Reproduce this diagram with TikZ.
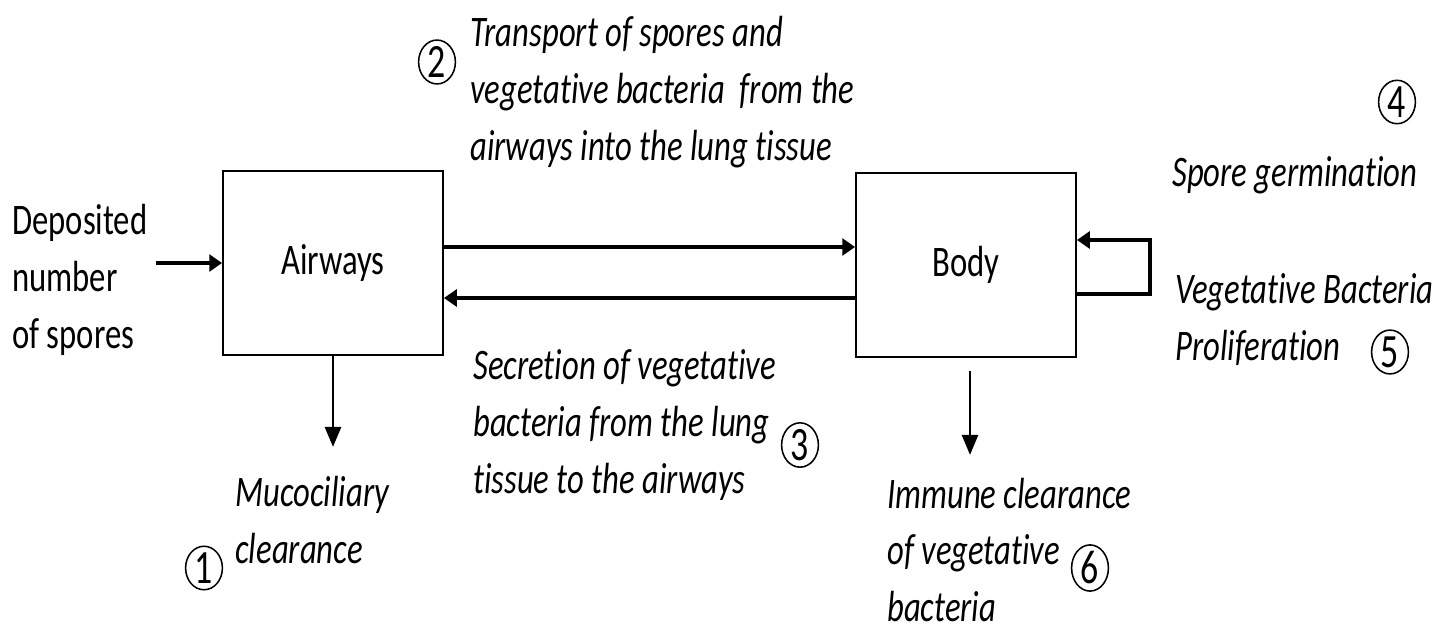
\documentclass[tikz,border=0pt]{standalone}
\usepackage{fontspec}
\setmainfont{Carlito}[FakeStretch=0.75,Ligatures=NoCommon]
\usetikzlibrary{arrows.meta,positioning,calc,shapes.geometric}
\newcommand\diagsize{\fontsize{31pt}{40.5pt}\selectfont}
\tikzset{
  box/.style={draw=black,line width=1.3pt,minimum width=5.5cm,minimum height=4.6cm,
    inner sep=0pt},
  arr/.style={-{Triangle[length=3.2mm,width=4.2mm]},line width=3.4pt,black},
  darr/.style={-{Triangle[length=5mm,width=4mm]},line width=1.9pt,black},
  lbl/.style={font=\diagsize\itshape,align=left,anchor=west,inner sep=0pt},
  txt/.style={align=left,anchor=west,inner sep=0pt},
  num/.style={draw=black,ellipse,line width=1.1pt,minimum width=0.92cm,
    minimum height=1.08cm,inner sep=0pt,font=\fontsize{34pt}{40pt}\selectfont}
}

\begin{document}
\begin{tikzpicture}[x=0.025cm,y=-0.025cm,font=\diagsize]
  \useasboundingbox (0,0) rectangle (1451,631);
  % compartments
  \node[box] (airways) at (333,263) {Airways};
  \node[box] (body) at (966,265) {Body};

  % input and exchange between compartments
  \node[txt] (deposited) at (12,280) {Deposited\\number\\of spores};
  \draw[arr] ($(airways.west)+(-66,0)$) -- (airways.west);
  \coordinate (up) at ($(airways.east)+(0,-16)$);
  \coordinate (dn) at ($(airways.east)+(0,35)$);
  \draw[arr] (up) -- (up -| body.west);
  \draw[arr] (dn -| body.west) -- (dn);
  \draw[arr] ($(body.east)+(0,29)$) -- ++(73,0) |- ($(body.east)+(0,-25)$);

  % losses
  \draw[darr] (airways.south) -- ++(0,91);
  \draw[darr] ($(body.south)+(4,13)$) -- ++(0,84);

  % labels
  \node[lbl] (transport) at (470,92)
    {Transport of spores and\\vegetative bacteria\ \ from the\\airways into the lung tissue};
  \node[num] (n2) at (437,62) {2};
  \node[lbl] (secretion) at (473,425)
    {Secretion of vegetative\\bacteria from the lung\\tissue to the airways};
  \node[num] (n3) at (800,445) {3};
  \node[lbl] (mucociliary) at (235,520) {Mucociliary\\clearance};
  \node[num] (n1) at (204,568) {1};
  \node[lbl] (germination) at (1172,175) {Spore germination};
  \node[num] (n4) at (1397,102) {4};
  \node[lbl] (proliferation) at (1175,320) {Vegetative Bacteria\\Proliferation};
  \node[num] (n5) at (1390,352) {5};
  \node[lbl] (immune) at (887,550) {Immune clearance\\of vegetative\\bacteria};
  \node[num] (n6) at (1090,568) {6};
\end{tikzpicture}
\end{document}
